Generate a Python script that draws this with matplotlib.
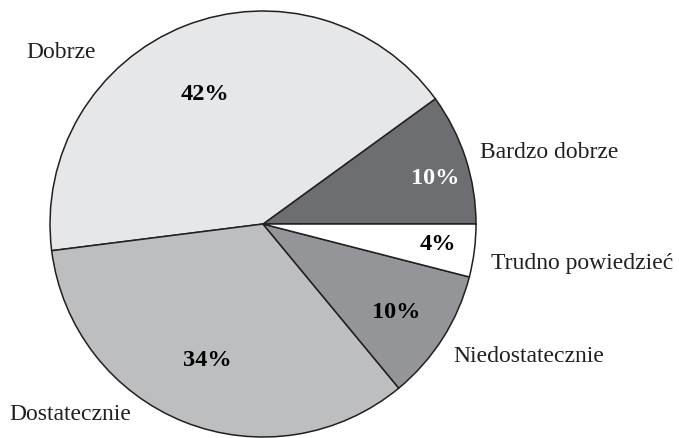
import matplotlib
matplotlib.use("Agg")
import matplotlib.pyplot as plt

categories = ["Bardzo dobrze", "Dobrze", "Dostatecznie", "Niedostatecznie", "Trudno powiedzieć"]
values = [10, 42, 34, 10, 4]
pct_labels = ["10%", "42%", "34%", "10%", "4%"]

colors = ["#6d6e71", "#e6e7e8", "#bcbec0", "#939598", "#ffffff"]
pct_colors = ["white", "black", "black", "black", "black"]

W, H = 679, 438
# layout (pixel coords, y from top)
center_px = (263, 224)
radius_px = 213
pct_pos = [(435, 178), (205, 94), (207, 360), (396, 312), (438, 245)]
label_pos = [(480, 153, "left"), (61, 52, "center"), (70, 414, "center"),
             (453, 356, "left"), (491, 263, "left")]

plt.rcParams["font.family"] = ["Liberation Serif", "DejaVu Serif"]
fig = plt.figure(figsize=(W / 100, H / 100), dpi=100)
ax = fig.add_axes([0, 0, 1, 1])

wedges, _ = ax.pie(values, colors=colors, startangle=0, counterclock=True,
                   center=(center_px[0], H - center_px[1]), radius=radius_px,
                   wedgeprops=dict(edgecolor="#231f20", linewidth=1.1), frame=True)
ax.set_xlim(0, W)
ax.set_ylim(0, H)
ax.set_aspect("equal")
ax.axis("off")

for (x, y), t, c in zip(pct_pos, pct_labels, pct_colors):
    ax.text(x, H - y, t, ha="center", va="center", fontsize=17.5,
            fontweight="bold", color=c)
for (x, y, ha), name in zip(label_pos, categories):
    ax.text(x, H - y, name, ha=ha, va="center", fontsize=17, color="#231f20")

fig.savefig("out.png", dpi=100)
